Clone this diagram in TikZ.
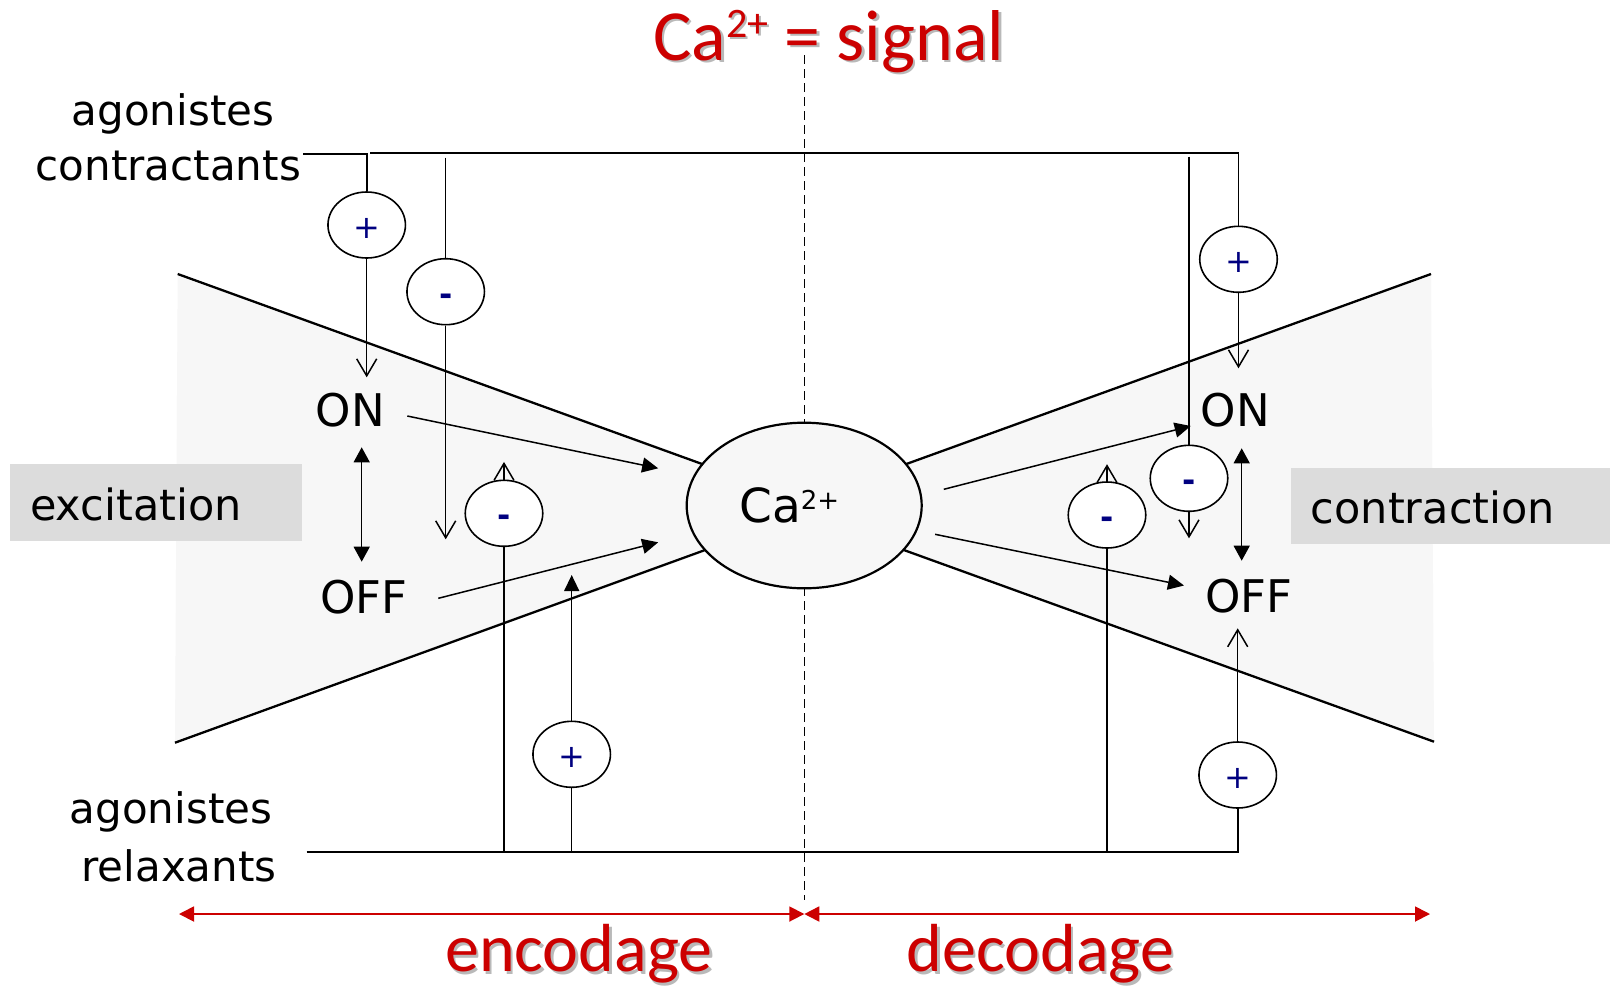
\documentclass[tikz,border=0pt]{standalone}
\usepackage{fontspec}
\setmainfont{DejaVu Sans}
\newfontfamily\calib{Carlito}
\usetikzlibrary{arrows.meta,shapes.geometric}
\definecolor{bowgray}{RGB}{247,247,247}
\definecolor{boxgray}{RGB}{220,220,220}
\definecolor{sigred}{RGB}{204,0,0}
\definecolor{signblue}{RGB}{0,0,128}
\definecolor{shadowgray}{RGB}{185,185,185}
\pgfdeclarelayer{back}
\pgfdeclarelayer{mid}
\pgfsetlayers{back,mid,main}
\begin{document}
\begin{tikzpicture}[x=1pt,y=-1pt,
  txt/.style={inner sep=0pt, font=\fontsize{42}{50}\selectfont, anchor=base},
  state/.style={inner sep=0pt, font=\fontsize{45}{54}\selectfont, anchor=base},
  redtxt/.style={inner sep=0pt, font=\calib\fontsize{72}{80}\selectfont, anchor=base west, text=sigred},
  shadowtxt/.style={redtxt, text=shadowgray},
  bottomred/.style={font=\calib\fontsize{68}{76}\selectfont},
  labelbox/.style={fill=boxgray, inner xsep=20pt, inner ysep=0pt, anchor=north west, align=left, text depth=0pt, font=\fontsize{43}{50}\selectfont},
  sign/.style={ellipse, draw, line width=1.6pt, fill=white, minimum width=77.5pt, minimum height=66pt, inner sep=0pt, text=signblue, font=\fontsize{32}{36}\selectfont, text height=27pt, text depth=0pt},
  minus/.style={sign, font=\bfseries\fontsize{32}{36}\selectfont},
  conn/.style={line width=1.5pt},
  hline/.style={line width=1.8pt},
  openarr/.style={conn, -{Straight Barb[length=17pt,width=20pt]}},
  fillarr/.style={conn, -{Triangle[length=16pt,width=15pt]}},
  dblarr/.style={conn, {Triangle[length=15pt,width=16pt]}-{Triangle[length=15pt,width=16pt]}},
  redarr/.style={line width=1.8pt, draw=sigred, {Triangle[length=15pt,width=15pt]}-{Triangle[length=15pt,width=15pt]}},
  bow/.style={line width=2.3pt},
  divider/.style={line width=1.4pt, dash pattern=on 9pt off 5pt},
]
\useasboundingbox (0,0) rectangle (1610,989);

% coordinates
\coordinate (L1) at (177.7,274);
\coordinate (L2) at (175,742.7);
\coordinate (R1) at (1431,274);
\coordinate (R2) at (1434,741.7);
\coordinate (Ctop) at (804.2,501);
\coordinate (Cbot) at (804.2,514);
\coordinate (dtop) at (804.3,55);
\coordinate (dbot) at (804.3,900);
\coordinate (lt) at (303,154);
\coordinate (tl) at (370,153);
\coordinate (bl) at (306.7,851.7);
\coordinate (mAtop) at (445.7,157.5);
\coordinate (mAend) at (445.7,539.3);
\coordinate (mCtop) at (1189,156.7);
\coordinate (mCend) at (1189,538.3);
\coordinate (pBtip) at (571.7,575);
\coordinate (rl) at (179,914);
\coordinate (rm) at (804.3,914);
\coordinate (rr) at (1430,914);

% texts
\node[txt] (agc1) at (173,125) {agonistes};
\node[txt] (agc2) at (168.3,180) {contractants};
\node[txt] (agr1) at (171,823.3) {agonistes};
\node[txt] (agr2) at (179,881.7) {relaxants};
\node[state] (ONl) at (350.5,426.7) {ON};
\node[state] (OFFl) at (364,613) {OFF};
\node[state] (ONr) at (1235.5,426) {ON};
\node[state] (OFFr) at (1249,612.7) {OFF};

\node[labelbox, text width=252pt, minimum height=76.7pt, text height=36.6pt] (exc) at (10,464) {excitation};
\node[labelbox, text width=279.3pt, minimum height=76.7pt, text height=35.3pt] (con) at (1290.7,467.3) {contraction};

\node[ellipse, draw, line width=2.2pt, fill=bowgray, minimum width=235pt, minimum height=165.6pt, inner sep=0pt, font=\fontsize{47}{54}\selectfont] (Ca) at (804.2,505.5) {Ca\raisebox{13pt}{\fontsize{26}{26}\selectfont 2+}\rule{30pt}{0pt}};

% sign circles
\node[sign] (pA) at (366.7,225) {+};
\node[minus] (mA) at (445.7,291.7) {-};
\node[minus] (mB) at (504,513.3) {-};
\node[sign] (pB) at (571.7,754.3) {+};
\node[sign] (pC) at (1238.5,259.3) {+};
\node[minus] (mC) at (1189,478.3) {-};
\node[minus] (mD) at (1107,515) {-};
\node[sign] (pD) at (1237.7,775) {+};

% red texts
\node[shadowtxt] (titleS) at (655.5,62.5) {Ca\raisebox{23pt}{\fontsize{42}{42}\selectfont 2+} = signal};
\node[redtxt] (title) at (653,60) {Ca\raisebox{23pt}{\fontsize{42}{42}\selectfont 2+} = signal};
\node[shadowtxt, bottomred] (encS) at (447.5,974) {encodage};
\node[redtxt, bottomred] (enc) at (445,971.5) {encodage};
\node[shadowtxt, bottomred] (decS) at (909,974) {decodage};
\node[redtxt, bottomred] (dec) at (906.5,971.5) {decodage};

\begin{pgfonlayer}{back}
  \fill[white] (0,0) rectangle (1610,989);
  \fill[bowgray] (L1) -- (Ctop) -- (Cbot) -- (L2) -- cycle;
  \fill[bowgray] (R1) -- (Ctop) -- (Cbot) -- (R2) -- cycle;
\end{pgfonlayer}

\begin{pgfonlayer}{mid}
  \draw[bow] (L1) -- (Ctop);
  \draw[bow] (L2) -- (Cbot);
  \draw[bow] (R1) -- (Ctop);
  \draw[bow] (R2) -- (Cbot);
  \draw[divider] (dtop) -- (dbot);
  % top feed
  \draw[hline] (lt) -| (pA.north);
  \draw[hline] (tl) -| (pC.north);
  \draw[openarr] (pA.south) -- ([shift={(0,-49.4)}]pA.south |- ONl.base);
  \draw[conn] (mAtop) -- (mA.north);
  \draw[openarr] (mA.south) -- (mAend);
  \draw[dblarr] ([shift={(11.2,20.6)}]ONl.base) -- ([shift={(-2.3,-51.3)}]OFFl.base);
  \draw[fillarr] ([shift={(56.8,-10.7)}]ONl.base) -- ([shift={(-27.4,-37.2)}]Ca.west);
  \draw[fillarr] ([shift={(74.3,-14.7)}]OFFl.base) -- ([shift={(-27.4,36.8)}]Ca.west);
  % bottom feed
  \draw[hline] (bl) -| (pD.south);
  \draw[openarr] (mB.center |- bl) -- ([shift={(0,-17.6)}]mB.north);
  \draw[conn] (pB.south |- bl) -- (pB.south);
  \draw[fillarr] (pB.north) -- (pBtip);
  % right side
  \draw[fillarr] ([shift={(21,-16.2)}]Ca.east) -- ([shift={(-44.8,0)}]ONr.base);
  \draw[fillarr] ([shift={(12.3,28.8)}]Ca.east) -- ([shift={(-65,-27.2)}]OFFr.base);
  \draw[dblarr] ([shift={(6.2,22.3)}]ONr.base) -- ([shift={(-7.3,-52)}]OFFr.base);
  \draw[openarr] (pC.south) -- ([shift={(0,-57.7)}]pC.south |- ONr.base);
  \draw[conn] (mCtop) -- (mC.north);
  \draw[openarr] (mC.south) -- (mCend);
  \draw[openarr] (mD.center |- bl) -- ([shift={(0,-17)}]mD.north);
  \draw[openarr] (pD.north) -- ([shift={(0,15.6)}]pD.north |- OFFr.base);
  % red ranges
  \draw[redarr] (rl) -- (rm);
  \draw[redarr] (rm) -- (rr);
\end{pgfonlayer}
\end{tikzpicture}
\end{document}
